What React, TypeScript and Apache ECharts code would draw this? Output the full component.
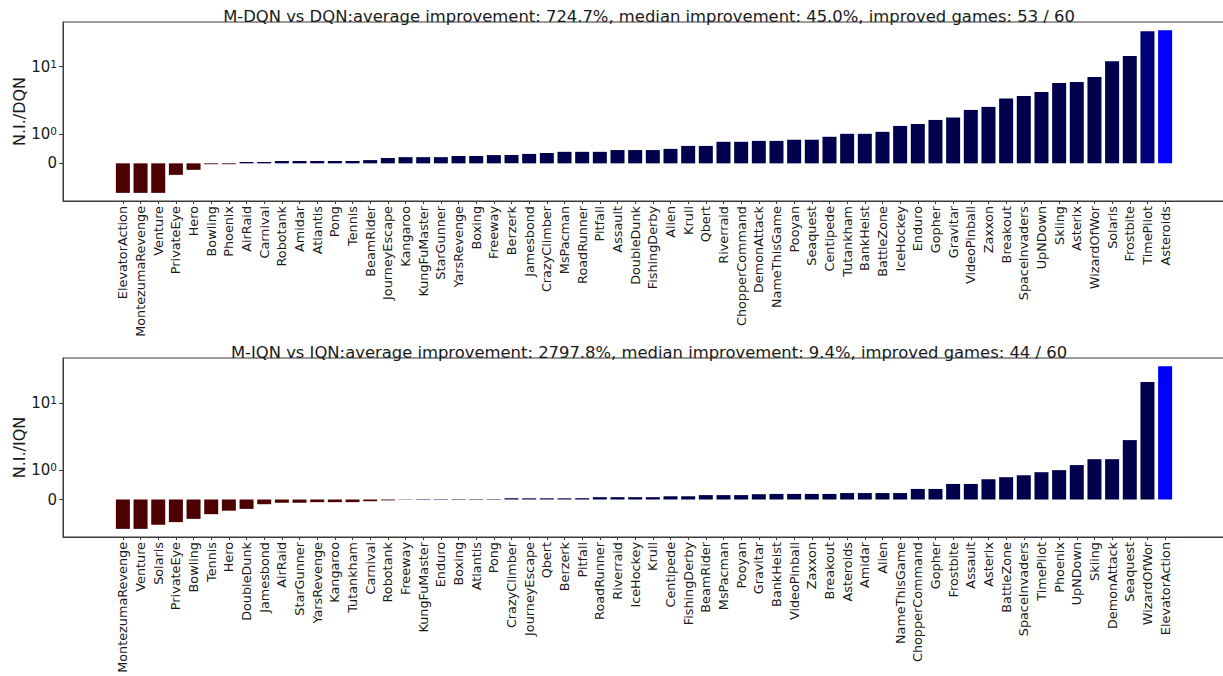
import React, { useEffect, useRef } from "react";
import * as echarts from "echarts";

const topTitle =
  "M-DQN vs DQN:average improvement: 724.7%, median improvement: 45.0%, improved games: 53 / 60";
const bottomTitle =
  "M-IQN vs IQN:average improvement: 2797.8%, median improvement: 9.4%, improved games: 44 / 60";

const topCategories = [
  "ElevatorAction", "MontezumaRevenge", "Venture", "PrivateEye", "Hero", "Bowling", "Phoenix",
  "AirRaid", "Carnival", "Robotank", "Amidar", "Atlantis", "Pong", "Tennis", "BeamRider",
  "JourneyEscape", "Kangaroo", "KungFuMaster", "StarGunner", "YarsRevenge", "Boxing", "Freeway",
  "Berzerk", "Jamesbond", "CrazyClimber", "MsPacman", "RoadRunner", "Pitfall", "Assault",
  "DoubleDunk", "FishingDerby", "Alien", "Krull", "Qbert", "Riverraid", "ChopperCommand",
  "DemonAttack", "NameThisGame", "Pooyan", "Seaquest", "Centipede", "Tutankham", "BankHeist",
  "BattleZone", "IceHockey", "Enduro", "Gopher", "Gravitar", "VideoPinball", "Zaxxon",
  "Breakout", "SpaceInvaders", "UpNDown", "Skiing", "Asterix", "WizardOfWor", "Solaris",
  "Frostbite", "TimePilot", "Asteroids",
];
const topValues = [
  -1.0, -1.0, -1.0, -0.39, -0.22, -0.03, -0.03,
  0.045, 0.045, 0.08, 0.08, 0.08, 0.08, 0.08, 0.11,
  0.18, 0.21, 0.21, 0.21, 0.25, 0.25, 0.28,
  0.28, 0.32, 0.35, 0.39, 0.39, 0.39, 0.45,
  0.45, 0.45, 0.49, 0.59, 0.59, 0.73, 0.73,
  0.76, 0.76, 0.8, 0.8, 0.9, 1.0, 1.0,
  1.07, 1.31, 1.4, 1.61, 1.75, 2.27, 2.52,
  3.35, 3.67, 4.21, 5.72, 5.93, 7.03, 12.1,
  14.4, 33.9, 35.1,
];

const bottomCategories = [
  "MontezumaRevenge", "Venture", "Solaris", "PrivateEye", "Bowling", "Tennis", "Hero",
  "DoubleDunk", "Jamesbond", "AirRaid", "StarGunner", "YarsRevenge", "Kangaroo", "Tutankham",
  "Carnival", "Robotank", "Freeway", "KungFuMaster", "Enduro", "Boxing", "Atlantis", "Pong",
  "CrazyClimber", "JourneyEscape", "Qbert", "Berzerk", "Pitfall", "RoadRunner", "Riverraid",
  "IceHockey", "Krull", "Centipede", "FishingDerby", "BeamRider", "MsPacman", "Pooyan",
  "Gravitar", "BankHeist", "VideoPinball", "Zaxxon", "Breakout", "Asteroids", "Amidar",
  "Alien", "NameThisGame", "ChopperCommand", "Gopher", "Frostbite", "Assault", "Asterix",
  "BattleZone", "SpaceInvaders", "TimePilot", "Phoenix", "UpNDown", "Skiing", "DemonAttack",
  "Seaquest", "WizardOfWor", "ElevatorAction",
];
const bottomValues = [
  -1.0, -1.0, -0.86, -0.77, -0.66, -0.5, -0.38,
  -0.32, -0.16, -0.11, -0.11, -0.09, -0.09, -0.09,
  -0.06, -0.03, 0.01, 0.015, 0.015, 0.015, 0.015, 0.015,
  0.04, 0.04, 0.04, 0.04, 0.045, 0.08, 0.08,
  0.08, 0.08, 0.11, 0.11, 0.15, 0.15, 0.15,
  0.18, 0.19, 0.19, 0.19, 0.19, 0.22, 0.22,
  0.22, 0.22, 0.36, 0.36, 0.53, 0.53, 0.69,
  0.76, 0.83, 0.93, 1.0, 1.19, 1.46, 1.46,
  2.82, 20.9, 36.2,
];

const yTickValues = [0, 1, 10];

// symmetric log transform (linear within [-1, 1], log10 outside)
const LIN = 0.44;
function symlog(v: number): number {
  const a = Math.abs(v);
  if (a <= 1) return v * LIN;
  return Math.sign(v) * (LIN + Math.log10(a));
}

const TEXT = "#1a1a1a";
const FONT = "DejaVu Sans";
const AXIS = "#3a3a3a";

function barColor(v: number, max: number): string {
  if (v < 0) return "#4c0000";
  if (v >= max) return "#0000ff";
  if (v > 0.9 * max) return "#00007a";
  return "#00004c";
}

function yRange(vals: number[]) {
  const ts = vals.map(symlog).concat([0]);
  const lo = Math.min(...ts);
  const hi = Math.max(...ts);
  const m = 0.05 * (hi - lo);
  return { min: lo - m, max: hi + m };
}

function makePanel(idx: number, cats: string[], vals: number[], top: number) {
  const n = cats.length;
  const span = n - 1 + 0.8;
  const xMin = -0.4 - 0.05 * span;
  const xMax = n - 1 + 0.4 + 0.05 * span;
  const yr = yRange(vals);
  const maxV = Math.max(...vals);
  const yTicks = yTickValues.map(symlog);
  const catIdx = cats.map((_, i) => i);
  return {
    grid: {
      left: 63,
      top,
      width: 1162,
      height: 179,
      show: true,
      borderColor: AXIS,
      borderWidth: 1,
      containLabel: false,
      outerBoundsMode: "none",
    },
    xAxis: {
      type: "value",
      gridIndex: idx,
      min: xMin,
      max: xMax,
      splitLine: { show: false },
      axisLine: { show: true, onZero: false, lineStyle: { color: AXIS, width: 1 } },
      axisTick: {
        show: true,
        length: 3,
        customValues: catIdx,
        lineStyle: { color: AXIS },
      },
      axisLabel: {
        customValues: catIdx,
        rotate: 90,
        margin: 5,
        fontSize: 12.8,
        fontFamily: FONT,
        color: TEXT,
        hideOverlap: false,
        formatter: (v: number) => cats[Math.round(v)] ?? "",
      },
    },
    yAxis: {
      type: "value",
      gridIndex: idx,
      min: yr.min,
      max: yr.max,
      name: idx === 0 ? "N.I./DQN" : "N.I./IQN",
      nameLocation: "middle",
      nameRotate: 90,
      nameGap: 36,
      nameMoveOverlap: false,
      nameTextStyle: { fontSize: 16, fontFamily: FONT, color: TEXT },
      splitLine: { show: false },
      axisLine: { show: true, onZero: false, lineStyle: { color: AXIS, width: 1 } },
      axisTick: {
        show: true,
        length: 4,
        customValues: yTicks,
        lineStyle: { color: AXIS },
      },
      axisLabel: {
        customValues: yTicks,
        margin: 6,
        fontSize: 15,
        fontFamily: FONT,
        color: TEXT,
        formatter: (val: number) => {
          let k = 0;
          for (let i = 0; i < yTicks.length; i++) {
            if (Math.abs(yTicks[i] - val) < 1e-6) k = i;
          }
          const v = yTickValues[k];
          if (v === 0) return "0";
          return "{b|10}{s|" + Math.round(Math.log10(v)) + "}";
        },
        rich: {
          b: { fontSize: 15, fontFamily: FONT, color: TEXT },
          s: { fontSize: 10.5, fontFamily: FONT, color: TEXT, verticalAlign: "top", padding: [0, 0, 6, 0] },
        },
      },
    },
    series: {
      type: "bar",
      xAxisIndex: idx,
      yAxisIndex: idx,
      barWidth: 14,
      data: vals.map((v, i) => [i, symlog(v)]),
      itemStyle: {
        color: (p: any) => barColor(vals[p.dataIndex], maxV),
      },
    },
  };
}

export default function App() {
  const ref = useRef<HTMLDivElement>(null);
  useEffect(() => {
    if (!ref.current) return;
    const chart = echarts.init(ref.current, undefined, { renderer: "svg" });
    const p1 = makePanel(0, topCategories, topValues, 22);
    const p2 = makePanel(1, bottomCategories, bottomValues, 358);
    chart.setOption({
      animation: false,
      backgroundColor: "#ffffff",
      textStyle: { fontFamily: FONT },
      title: [
        {
          text: topTitle,
          left: 644,
          textAlign: "center",
          top: 3,
          textStyle: { fontSize: 16.4, fontWeight: "normal", fontFamily: FONT, color: TEXT },
        },
        {
          text: bottomTitle,
          left: 644,
          textAlign: "center",
          top: 339,
          textStyle: { fontSize: 16.4, fontWeight: "normal", fontFamily: FONT, color: TEXT },
        },
      ],
      grid: [p1.grid, p2.grid],
      xAxis: [p1.xAxis, p2.xAxis],
      yAxis: [p1.yAxis, p2.yAxis],
      series: [p1.series, p2.series],
    });
    return () => chart.dispose();
  }, []);
  return (
    <div
      ref={ref}
      style={{ position: "absolute", left: 0, top: 0, width: 1223, height: 676 }}
    />
  );
}
